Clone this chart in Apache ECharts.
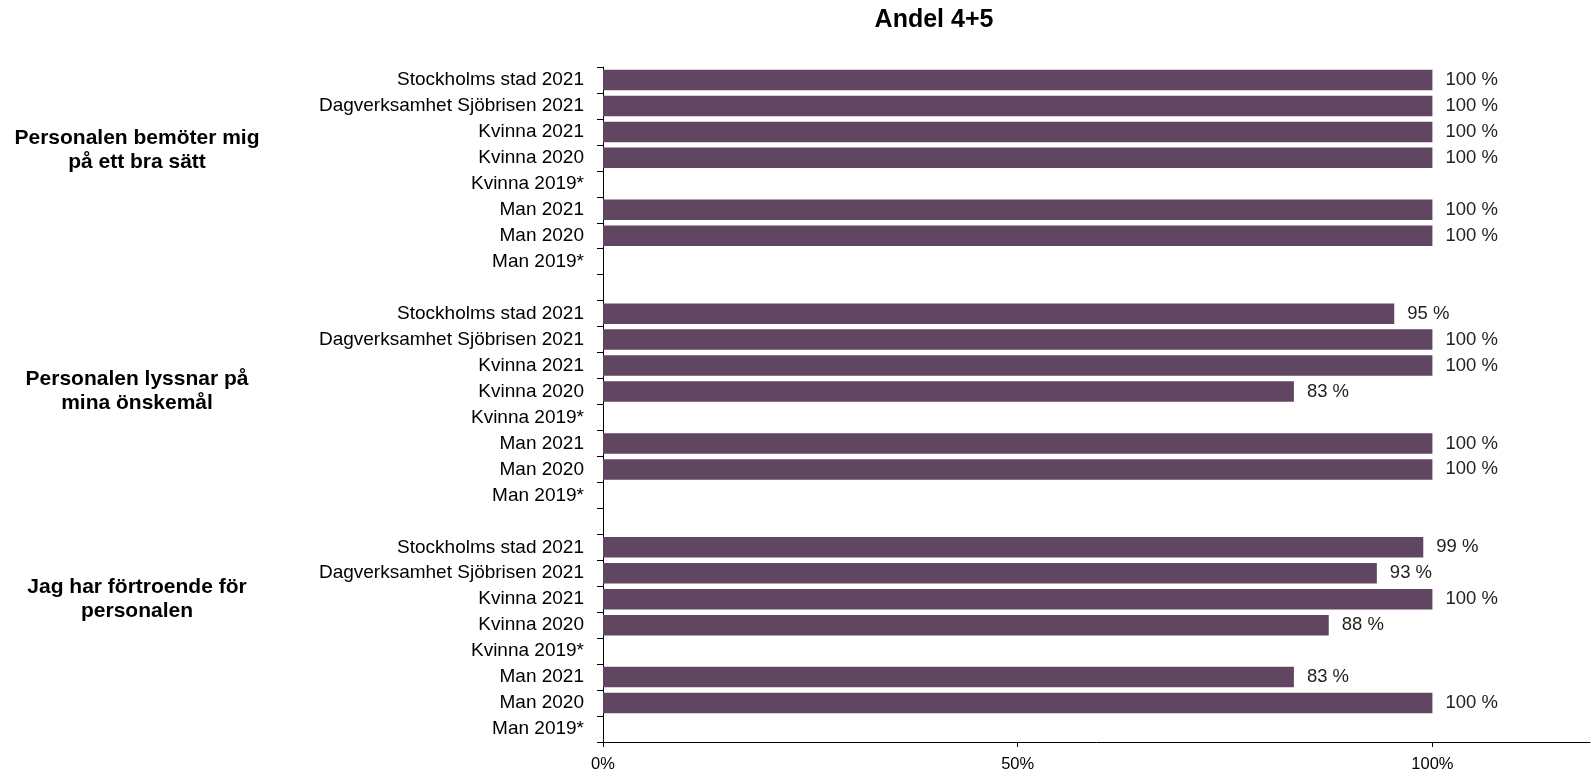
<!DOCTYPE html>
<html>
<head>
<meta charset="utf-8">
<script src="https://cdn.jsdelivr.net/npm/echarts@6/dist/echarts.min.js"></script>
<style>
  html, body { margin: 0; padding: 0; background: #fff; }
  #chart { width: 1591px; height: 771px; }
</style>
</head>
<body>
<div id="chart"></div>
<script>
// rader per fråga, tom rad mellan grupperna
var rowLabels = [
    'Stockholms stad 2021', 'Dagverksamhet Sjöbrisen 2021', 'Kvinna 2021', 'Kvinna 2020',
    'Kvinna 2019*', 'Man 2021', 'Man 2020', 'Man 2019*'
];
var questions = [
    ['Personalen bemöter mig', 'på ett bra sätt'],
    ['Personalen lyssnar på', 'mina önskemål'],
    ['Jag har förtroende för', 'personalen']
];
var values1 = [100, 100, 100, 100, null, 100, 100, null];
var values2 = [95.4, 100, 100, 83.3, null, 100, 100, null];
var values3 = [98.9, 93.3, 100, 87.5, null, 83.3, 100, null];
var xTicks = [0, 50, 100];

var categories = rowLabels.concat([''], rowLabels, [' '], rowLabels);
var values = values1.concat([null], values2, [null], values3);

var questionY = [150, 391, 599];

var myChart = echarts.init(document.getElementById('chart'));

var graphics = [];
for (var i = 0; i < questions.length; i++) {
    graphics.push({
        type: 'text',
        x: 137,
        y: questionY[i],
        style: {
            text: questions[i].join('\n'),
            align: 'center',
            verticalAlign: 'middle',
            lineHeight: 24,
            font: 'bold 21px "Liberation Sans", Arial, sans-serif',
            fill: '#000'
        }
    });
}

myChart.setOption({
    animation: false,
    textStyle: { fontFamily: '"Liberation Sans", Arial, sans-serif' },
    title: {
        text: 'Andel 4+5',
        left: 929,
        textAlign: 'center',
        top: 3,
        textStyle: { fontSize: 25, fontWeight: 'bold', color: '#000' }
    },
    grid: {
        left: 603, right: 1, top: 67, bottom: 29,
        containLabel: false,
        outerBoundsMode: 'none'
    },
    xAxis: {
        type: 'value',
        min: 0,
        max: 119,
        axisLine: { show: true, lineStyle: { color: '#000', width: 1 } },
        axisTick: { show: true, length: 5, lineStyle: { color: '#000' }, customValues: xTicks },
        splitLine: { show: false },
        axisLabel: {
            customValues: xTicks,
            formatter: function (v) { return v + '%'; },
            fontSize: 16.5, color: '#000', margin: 14
        }
    },
    yAxis: {
        type: 'category',
        inverse: true,
        data: categories,
        axisLine: { show: true, lineStyle: { color: '#000', width: 1 } },
        axisTick: { show: true, length: 6, lineStyle: { color: '#000' } },
        axisLabel: { fontSize: 19, color: '#000', margin: 19, interval: 0 }
    },
    series: [{
        type: 'bar',
        data: values,
        barWidth: '79%',
        itemStyle: { color: '#604660' },
        label: {
            show: true,
            position: 'right',
            distance: 13,
            fontSize: 18.5,
            color: '#222',
            formatter: function (p) { return Math.round(p.value) + ' %'; }
        }
    }],
    graphic: graphics
});
</script>
</body>
</html>
